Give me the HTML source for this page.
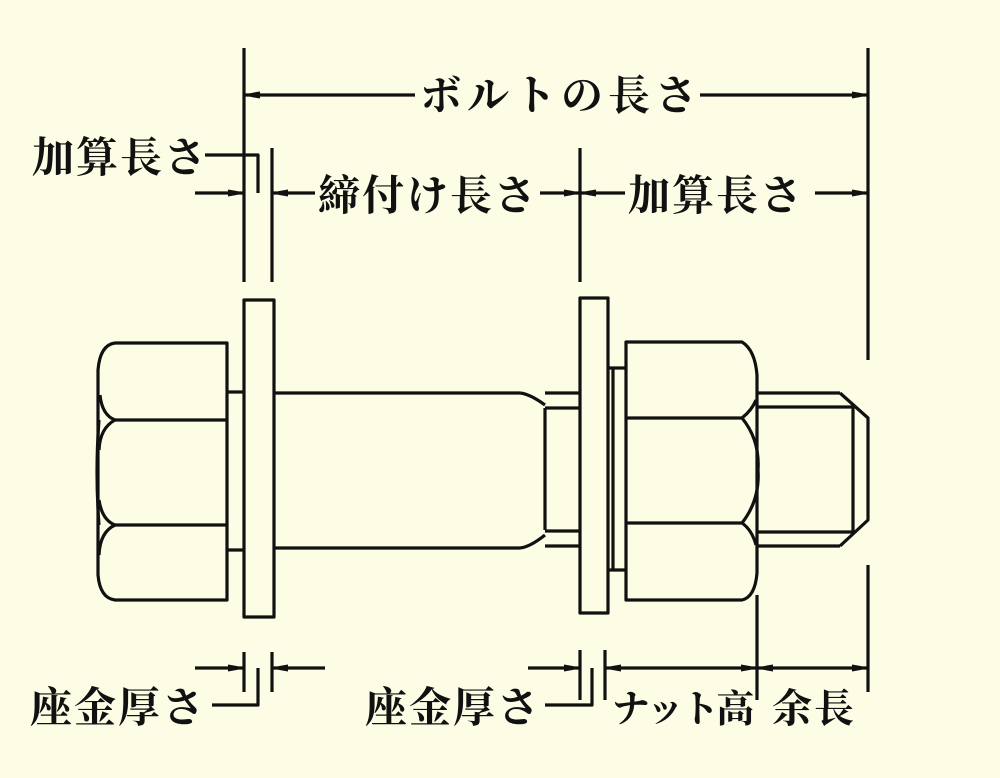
<!DOCTYPE html>
<html><head><meta charset="utf-8"><style>
html,body{margin:0;padding:0;background:#fdfde6;}
svg{display:block}
text{font-family:"Noto Serif CJK SC","Noto Sans CJK JP",serif;font-weight:bold;font-size:42px;fill:#111;letter-spacing:2px;}
</style></head><body>
<svg width="1000" height="778" viewBox="0 0 1000 778" xmlns="http://www.w3.org/2000/svg">
<rect width="1000" height="778" fill="#fdfde6"/>
<defs>
<marker id="a" viewBox="0 0 16 10" refX="16" refY="5" markerWidth="16" markerHeight="10" markerUnits="userSpaceOnUse" orient="auto-start-reverse">
<path d="M0,1.5 Q8,2.5 16,5 Q8,7.5 0,8.5 Z" fill="#111"/></marker>
</defs>
<g stroke="#111" stroke-width="3.2" fill="none" stroke-linejoin="round">
<line x1="244" y1="48" x2="244" y2="282"/>
<line x1="272" y1="148" x2="272" y2="282"/>
<line x1="580" y1="148" x2="580" y2="282"/>
<line x1="868" y1="48" x2="868" y2="360"/>
<line x1="868" y1="565" x2="868" y2="692"/>
<line x1="244" y1="652" x2="244" y2="692"/>
<line x1="272" y1="652" x2="272" y2="692"/>
<line x1="580" y1="650" x2="580" y2="700"/>
<line x1="605" y1="650" x2="605" y2="700"/>
<line x1="757" y1="595" x2="757" y2="700"/>
<line x1="244" y1="95" x2="415" y2="95" marker-start="url(#a)"/>
<line x1="700" y1="95" x2="868" y2="95" marker-end="url(#a)"/>
<line x1="195" y1="193" x2="244" y2="193" marker-end="url(#a)"/>
<line x1="272" y1="193" x2="315" y2="193" marker-start="url(#a)"/>
<polyline points="205,155 258,155 258,193"/>
<line x1="540" y1="193" x2="580" y2="193" marker-end="url(#a)"/>
<line x1="580" y1="193" x2="625" y2="193" marker-start="url(#a)"/>
<line x1="815" y1="193" x2="868" y2="193" marker-end="url(#a)"/>
<line x1="195" y1="668" x2="244" y2="668" marker-end="url(#a)"/>
<line x1="272" y1="668" x2="325" y2="668" marker-start="url(#a)"/>
<polyline points="258,668 258,705 212,705"/>
<line x1="528" y1="668" x2="580" y2="668" marker-end="url(#a)"/>
<polyline points="592,668 592,705 545,705"/>
<line x1="605" y1="668" x2="757" y2="668" marker-start="url(#a)" marker-end="url(#a)"/>
<line x1="757" y1="668" x2="868" y2="668" marker-start="url(#a)" marker-end="url(#a)"/>
<path d="M115,343 L227,343 L227,600 L115,600 Q100,598 98,575 L98,370 Q100,345 115,343 Z"/>
<line x1="113" y1="420" x2="227" y2="420"/>
<line x1="113" y1="525" x2="227" y2="525"/>
<path d="M99,420 Q95,472 99,525"/>
<path d="M115,420 Q102,415 100,395"/>
<path d="M115,420 Q100,428 99,450"/>
<path d="M115,525 Q102,520 99,500"/>
<path d="M115,525 Q100,532 99,555"/>
<line x1="227" y1="392" x2="244" y2="392"/>
<line x1="227" y1="550" x2="244" y2="550"/>
<rect x="244" y="300" width="30" height="317"/>
<line x1="274" y1="393" x2="520" y2="393"/>
<line x1="274" y1="548" x2="520" y2="548"/>
<path d="M520,393 Q530,394 545,405"/>
<path d="M520,548 Q530,547 545,535"/>
<line x1="545" y1="408" x2="545" y2="530"/>
<line x1="545" y1="393" x2="580" y2="393"/>
<line x1="545" y1="408" x2="580" y2="408"/>
<line x1="545" y1="531" x2="580" y2="531"/>
<line x1="545" y1="546" x2="580" y2="546"/>
<rect x="580" y="298" width="28" height="315"/>
<line x1="608" y1="368" x2="626" y2="368"/>
<line x1="608" y1="570" x2="626" y2="570"/>
<line x1="613" y1="368" x2="613" y2="570"/>
<path d="M626,342 L742,342 Q755,350 757,375 L757,573 Q755,597 742,600 L626,600 Z"/>
<line x1="626" y1="418" x2="742" y2="418"/>
<line x1="626" y1="523" x2="742" y2="523"/>
<path d="M742,418 Q760,440 758,470 Q760,500 742,523"/>
<path d="M742,418 Q752,410 756,400"/>
<path d="M742,523 Q752,530 756,545"/>
<line x1="757" y1="393" x2="840" y2="393"/>
<line x1="757" y1="407" x2="853" y2="407"/>
<line x1="757" y1="532" x2="853" y2="532"/>
<line x1="757" y1="546" x2="840" y2="546"/>
<polyline points="840,393 868,418 868,520 840,546"/>
<line x1="853" y1="407" x2="853" y2="532"/>
</g>
<text x="420" y="110" style="letter-spacing:5px">ボルトの長さ</text>
<text x="32" y="172">加算長さ</text>
<text x="318" y="210">締付け長さ</text>
<text x="628" y="210">加算長さ</text>
<text x="30" y="722">座金厚さ</text>
<text x="365" y="722">座金厚さ</text>
<text x="612" y="722" style="font-size:38px;letter-spacing:-3px">ナット高</text>
<text x="772" y="722" style="font-size:40px">余長</text>
</svg>
</body></html>
